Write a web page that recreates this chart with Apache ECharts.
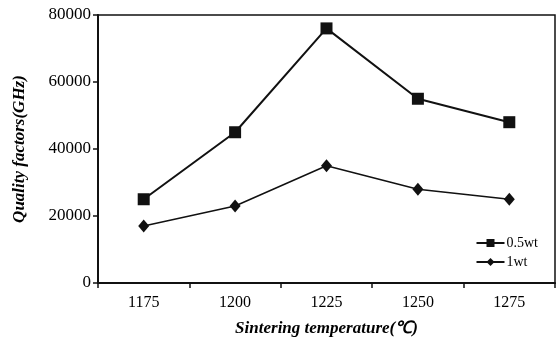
<!DOCTYPE html>
<html><head><meta charset="utf-8">
<script src="https://cdn.jsdelivr.net/npm/echarts@6/dist/echarts.min.js"></script>
<style>html,body{margin:0;padding:0;background:#fff}#c{width:557px;height:342px}</style>
</head><body><div id="c"></div>
<script>
const categories = ['1175', '1200', '1225', '1250', '1275'];
const s05wt = [25000, 45000, 76000, 55000, 48000];
const s1wt = [17000, 23000, 35000, 28000, 25000];
const seriesNames = ['0.5wt', '1wt'];

const chart = echarts.init(document.getElementById('c'));
const font = 'Liberation Serif, Times New Roman, serif';
chart.setOption({
  animation: false,
  backgroundColor: '#fff',
  textStyle: {fontFamily: font},
  grid: {left: 98, right: 2, top: 15, bottom: 56, show: true, borderColor: '#111', borderWidth: 1.5, backgroundColor: 'transparent'},
  legend: {
    right: 14, top: 231, orient: 'vertical', itemGap: 5, itemWidth: 28, itemHeight: 10,
    textStyle: {fontFamily: font, fontSize: 14, color: '#000', padding: [0,0,0,-3]},
    data: seriesNames
  },
  xAxis: {
    type: 'category', data: categories, boundaryGap: true,
    name: 'Sintering temperature(℃)', nameLocation: 'middle', nameGap: 37,
    nameTextStyle: {fontFamily: font, fontSize: 17, fontStyle: 'italic', fontWeight: 'bold', color: '#000'},
    axisLine: {lineStyle: {color: '#111', width: 2}},
    axisTick: {show: true, length: 5, lineStyle: {color: '#111', width: 1.5}},
    axisLabel: {fontFamily: font, fontSize: 16, color: '#000', margin: 12}
  },
  yAxis: {
    type: 'value', min: 0, max: 80000, interval: 20000,
    name: 'Quality factors(GHz)', nameLocation: 'middle', nameGap: 70,
    nameTextStyle: {fontFamily: font, fontSize: 17, fontStyle: 'italic', fontWeight: 'bold', color: '#000'},
    axisLine: {show: true, lineStyle: {color: '#111', width: 2}},
    axisTick: {show: true, length: 5, lineStyle: {color: '#111', width: 1.5}},
    axisLabel: {fontFamily: font, fontSize: 17, color: '#000', margin: 7, formatter: v => String(v)},
    splitLine: {show: false}
  },
  series: [
    {name: seriesNames[0], type: 'line', data: s05wt, symbol: 'rect', symbolSize: 12,
     itemStyle: {color: '#111'}, lineStyle: {color: '#111', width: 2}},
    {name: seriesNames[1], type: 'line', data: s1wt, symbol: 'diamond', symbolSize: [11, 13],
     itemStyle: {color: '#111'}, lineStyle: {color: '#111', width: 1.5}}
  ]
});
</script></body></html>
